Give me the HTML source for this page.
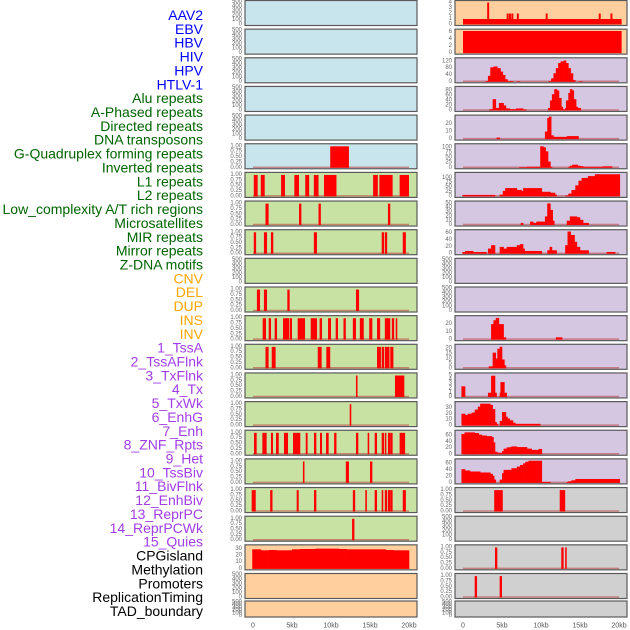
<!DOCTYPE html>
<html><head><meta charset="utf-8"><style>
html,body{margin:0;padding:0;background:#fff;}
svg{display:block;font-family:"Liberation Sans",sans-serif;}
</style></head><body>
<svg id="chart" width="630" height="630" viewBox="0 0 630 630" xmlns="http://www.w3.org/2000/svg"></svg>
<script>
const trackNames = ["AAV2","EBV","HBV","HIV","HPV","HTLV-1","Alu repeats","A-Phased repeats","Directed repeats","DNA transposons","G-Quadruplex forming repeats","Inverted repeats","L1 repeats","L2 repeats","Low_complexity A/T rich regions","Microsatellites","MIR repeats","Mirror repeats","Z-DNA motifs","CNV","DEL","DUP","INS","INV","1_TssA","2_TssAFlnk","3_TxFlnk","4_Tx","5_TxWk","6_EnhG","7_Enh","8_ZNF_Rpts","9_Het","10_TssBiv","11_BivFlnk","12_EnhBiv","13_ReprPC","14_ReprPCWk","15_Quies","CPGisland","Methylation","Promoters","ReplicationTiming","TAD_boundary"];
const kbTicks = [0,5,10,15,20];
const kbTickLabels = ["0","5kb","10kb","15kb","20kb"];
const ticks01 = [0,0.25,0.5,0.75,1];
const ticks01Labels = ["0.00","0.25","0.50","0.75","1.00"];
const ticks500 = [0,100,200,300,400,500];

// Left column binary intervals [startKb, endKb]
const gquadIntervals = [[9.9,12.3]];
const l1Intervals = [[0.1,0.6],[1.0,1.5],[3.6,4.1],[5.3,5.9],[6.7,7.2],[7.8,8.4],[9.1,10.7],[15.4,16.0],[16.2,17.9],[18.8,20.0]];
const lowCompIntervals = [[1.6,2.0],[5.9,6.2],[8.4,8.7],[17.3,17.6]];
const mirIntervals = [[0.1,0.4],[1.4,1.8],[2.3,2.6],[7.8,8.2],[16.5,16.8],[16.9,17.2],[19.2,19.6]];
const delIntervals = [[0.5,0.9],[1.4,1.8],[4.4,4.7],[13.2,13.6]];
const insIntervals = [[1.24,1.67],[2.01,2.31],[2.78,3.08],[3.85,4.62],[4.7,5.0],[5.73,6.67],[7.4,8.21],[8.54,8.85],[9.62,10.0],[10.6,10.9],[11.6,11.9],[12.8,13.2],[13.7,14.2],[14.9,15.3],[15.9,16.3],[16.9,17.6],[17.8,18.1],[18.3,18.5]];
const tssaIntervals = [[1.6,2.0],[2.4,2.9],[8.3,8.8],[9.4,9.9],[15.9,16.4],[16.5,16.8],[16.9,17.5],[17.6,18.0]];
const txflnkIntervals = [[13.2,13.4],[18.2,19.4]];
const txwkIntervals = [[12.4,12.6]];
const enhIntervals = [[0.13,0.47],[1.2,1.75],[2.3,2.56],[2.95,3.3],[3.97,4.49],[5.13,6.06],[6.76,7.0],[7.82,8.12],[8.59,8.85],[9.36,9.7],[10.4,10.7],[13.2,13.5],[14.7,14.9],[15.6,15.9],[16.5,16.8],[16.9,17.1],[17.3,17.6],[17.6,17.9],[18.8,19.5]];
const hetIntervals = [[6.4,6.6],[11.9,12.3],[15.0,15.3]];
const bivflnkIntervals = [[-0.17,0.35],[2.2,2.5],[5.6,5.86],[7.82,8.12],[12.8,13.1],[14.4,14.6],[15.6,15.9],[16.5,16.7],[16.9,17.2],[17.3,17.6],[17.6,17.9],[19.2,19.6]];
const quiesIntervals = [[12.7,13.0]];
// right column binary
const bivGrayIntervals = [[4.0,5.1],[12.4,13.1]];
const methIntervals = [[4.1,4.4],[12.6,12.9],[13.1,13.3]];
const replIntervals = [[1.5,1.8],[4.7,5.0]];

// step profiles [startKb, value]; a step lasts until the next start
const cpgSteps = [[-0.1,29.5],[1,28],[2,28.5],[3,28],[4,28],[5,29.5],[6,30],[8,30.5],[11,30],[12,29.5],[17,28.5],[18,28],[20,0]];
const aav2Steps = [[0,1],[20.3,0]];
const aav2Spikes = [[3.1,4],[5.6,2],[5.9,2],[6.2,2],[6.9,2],[10.6,2],[17.4,2],[18.9,2]];
const ebvSteps = [[0,6.3],[20.3,0]];
const hivSteps = [[2.9,5],[3.2,35],[3.5,85],[3.9,90],[4.4,80],[4.8,60],[5.1,40],[5.4,15],[5.7,4],[6.4,0],[6.9,3],[7.3,0],[11.0,5],[11.3,20],[11.6,50],[11.9,80],[12.2,110],[12.5,120],[12.9,125],[13.2,110],[13.5,80],[13.8,50],[14.1,10],[14.4,0],[14.8,3],[15.3,0]];
const aluSteps = [[3.4,5],[3.8,45],[4.2,10],[4.6,30],[5.2,20],[5.5,8],[6.0,5],[6.8,8],[7.7,4],[8.1,0],[10.9,10],[11.15,40],[11.4,65],[11.7,85],[12.05,80],[12.3,50],[12.6,15],[12.8,5],[13.1,10],[13.2,40],[13.5,70],[13.7,85],[14.0,80],[14.2,45],[14.5,15],[14.7,10],[15.1,0]];
const directedSteps = [[4.3,2],[4.7,0],[10.5,10],[10.8,28],[11.0,30],[11.3,5],[11.6,3],[13.3,4],[14.8,0]];
const dnaSteps = [[7.2,3],[8.2,5],[9.9,105],[10.3,100],[10.6,80],[10.9,30],[11.2,5],[11.4,0],[13.5,5],[13.7,10],[14.0,15],[14.7,10],[15.0,8],[15.4,5],[17.9,7],[19.1,0]];
const l1Steps = [[-0.1,8],[4.1,0],[4.7,10],[5.1,30],[5.4,45],[6.9,35],[7.5,30],[7.7,45],[10.1,25],[11.2,20],[11.8,10],[12.0,0],[13.1,5],[13.5,15],[13.9,35],[14.4,60],[14.8,85],[15.2,100],[16.0,110],[16.9,120],[20.1,0]];
const l2Steps = [[7.4,5],[7.7,0],[8.6,8],[9.0,5],[9.4,8],[10.5,20],[10.8,50],[11.2,35],[11.5,10],[11.7,0],[13.3,10],[13.7,20],[14.6,18],[15.0,12],[15.4,5],[16.1,0]];
const mirSteps = [[-0.1,5],[0.26,8],[1.3,5],[3.0,0],[3.2,15],[3.6,25],[4.1,0],[4.7,20],[5.2,15],[5.6,20],[6.9,25],[7.3,28],[7.7,15],[7.9,8],[10.1,0],[10.8,10],[11.1,20],[11.4,10],[12.0,0],[13.1,25],[13.4,65],[13.8,55],[14.3,35],[14.6,20],[15.0,10],[16.1,0],[18.4,5],[19.5,0]];
const insSteps = [[3.6,20],[3.9,25],[4.2,28],[4.6,20],[5.2,3],[5.5,0],[11.9,3],[12.7,0]];
const tssaSteps = [[3.3,2],[3.8,16],[4.2,10],[4.4,20],[4.7,22],[5.0,9],[5.3,3],[5.5,0]];
const txSteps = [[-0.2,2.5],[0.26,0],[3.2,1],[3.6,5],[4.1,1],[4.3,0],[4.7,1],[4.8,3.5],[5.3,1],[5.6,0]];
const txwkSteps = [[-0.2,20],[0.26,18],[0.6,20],[1.1,22],[1.5,27],[1.9,32],[2.2,37],[3.5,35],[3.8,28],[4.1,6],[4.3,3],[4.5,0],[4.7,8],[5.0,23],[5.5,15],[5.7,12],[6.0,9],[6.4,5],[6.7,3],[9.9,0]];
const enhSteps = [[-0.2,65],[0.2,70],[1.5,68],[2.0,63],[2.4,60],[3.0,58],[3.7,55],[3.9,38],[4.1,8],[4.4,5],[5.0,10],[5.2,18],[5.6,22],[6.0,23],[6.2,25],[6.9,23],[8.2,18],[8.8,14],[9.7,17],[10.1,0]];
const hetSteps = [[-0.2,42],[0.26,38],[0.9,35],[2.2,32],[3.5,28],[3.8,22],[4.0,10],[4.2,0],[4.7,10],[5.0,30],[5.2,40],[6.2,45],[6.9,50],[7.3,55],[7.7,60],[8.0,65],[8.4,68],[10.1,3],[11.2,0],[13.3,3],[13.5,5],[13.9,8],[14.4,12],[20.1,0]];

const BLUE="#c8e4ec", GREEN="#c8e2a4", ORANGE="#ffd09e", PURPLE="#d5c6e2", GRAY="#d0d0d0";
const leftPanels = [
 {bg:BLUE},{bg:BLUE},{bg:BLUE},{bg:BLUE},{bg:BLUE},
 {bg:BLUE,iv:gquadIntervals},
 {bg:GREEN,iv:l1Intervals},{bg:GREEN,iv:lowCompIntervals},{bg:GREEN,iv:mirIntervals},{bg:GREEN},
 {bg:GREEN,iv:delIntervals},{bg:GREEN,iv:insIntervals},{bg:GREEN,iv:tssaIntervals},{bg:GREEN,iv:txflnkIntervals},
 {bg:GREEN,iv:txwkIntervals},{bg:GREEN,iv:enhIntervals},{bg:GREEN,iv:hetIntervals},{bg:GREEN,iv:bivflnkIntervals},
 {bg:GREEN,iv:quiesIntervals},
 {bg:ORANGE,st:cpgSteps,ymax:34,ticks:[0,10,20,30]},{bg:ORANGE},{bg:ORANGE}
];
const rightPanels = [
 {bg:ORANGE,st:aav2Steps,spikes:aav2Spikes,ymax:4.1,ticks:[0,1,2,3,4],nobase:true},
 {bg:ORANGE,st:ebvSteps,ymax:6.4,ticks:[0,2,4,6],nobase:true},
 {bg:PURPLE,st:hivSteps,ymax:132,ticks:[0,40,80,120]},
 {bg:PURPLE,st:aluSteps,ymax:90,ticks:[0,20,40,60,80]},
 {bg:PURPLE,st:directedSteps,ymax:30,ticks:[0,10,20]},
 {bg:PURPLE,st:dnaSteps,ymax:110,ticks:[0,25,50,75,100]},
 {bg:PURPLE,st:l1Steps,ymax:122,ticks:[0,25,50,75,100]},
 {bg:PURPLE,st:l2Steps,ymax:52,ticks:[0,10,20,30,40,50]},
 {bg:PURPLE,st:mirSteps,ymax:66,ticks:[0,20,40,60]},
 {bg:PURPLE},{bg:PURPLE},
 {bg:PURPLE,st:insSteps,ymax:29,ticks:[0,10,20]},
 {bg:PURPLE,st:tssaSteps,ymax:23,ticks:[0,5,10,15,20]},
 {bg:PURPLE,st:txSteps,ymax:5.3,ticks:[0,1,2,3,4,5]},
 {bg:PURPLE,st:txwkSteps,ymax:38,ticks:[0,10,20,30]},
 {bg:PURPLE,st:enhSteps,ymax:72,ticks:[0,20,40,60]},
 {bg:PURPLE,st:hetSteps,ymax:69,ticks:[0,20,40,60]},
 {bg:GRAY,iv:bivGrayIntervals},{bg:GRAY},{bg:GRAY,iv:methIntervals},{bg:GRAY,iv:replIntervals},{bg:GRAY}
];

const svg = document.getElementById('chart');
const NS = "http://www.w3.org/2000/svg";
function mk(tag, attrs, parent){ const e=document.createElementNS(NS,tag); for(const k in attrs) e.setAttribute(k,attrs[k]); (parent||svg).appendChild(e); return e; }

// labels
const labelColors = i => i<6?"#0000ff":(i<19?"#006400":(i<24?"#ffa500":(i<39?"#a13ee8":"#000")));
trackNames.forEach((n,i)=>{
  const t = mk('text',{x:203,y:15+13.86*i,'text-anchor':'end','dominant-baseline':'central','font-size':14,fill:labelColors(i)});
  
  
  t.textContent = n;
});

function rowGeom(r){ return r<21 ? {top:0.5+r*28.65, h:25} : {top:601, h:16}; }

function drawPanel(p, r, colX, col){
  const g = rowGeom(r);
  const x0 = colX-8, w = 172;
  const xs = kb => colX + kb*7.8;
  const ymax = p.ymax || (p.iv?1.05:500);
  const bottom = g.top+g.h-1, span = g.h-2.5;
  const ys = v => bottom - v/ymax*span;
  const grp = mk('g',{});
  
  
  const bgR = mk('rect',{x:x0,y:g.top,width:w,height:g.h,fill:p.bg},grp);
  
  
  const clip = mk('g',{},grp);
  if(p.iv){
    mk('line',{x1:xs(0),x2:xs(20),y1:bottom-0.5,y2:bottom-0.5,stroke:'rgba(190,60,60,0.55)','stroke-width':1.5},clip);
    p.iv.forEach(iv=>{
      const b = mk('rect',{x:xs(iv[0]),y:ys(1.0),width:Math.max(1.5,xs(iv[1])-xs(iv[0])),height:bottom-ys(1.0),fill:'#ff0000'},clip);
      
      
    });
  }
  if(p.st){
    if(!p.nobase) mk('line',{x1:xs(0),x2:xs(20),y1:bottom-0.5,y2:bottom-0.5,stroke:'rgba(190,60,60,0.55)','stroke-width':1.5},clip);
    for(let i=0;i<p.st.length-1;i++){
      const v=p.st[i][1]; if(v<=0) continue;
      const yy = Math.max(g.top+0.5, ys(v));
      const b = mk('rect',{x:xs(p.st[i][0]),y:yy,width:xs(p.st[i+1][0])-xs(p.st[i][0])+0.3,height:bottom-yy,fill:'#ff0000'},clip);
      
      
    }
    (p.spikes||[]).forEach(s=>{
      const yy = Math.max(g.top+0.5, ys(s[1]));
      const b = mk('rect',{x:xs(s[0]),y:yy,width:2,height:bottom-yy,fill:'#ff0000'},clip);
      
      
    });
  }
  const br = mk('rect',{x:x0,y:g.top,width:w,height:g.h,fill:'none',stroke:'#5a5a5a','stroke-width':1.2},grp);
  
  
  // y ticks
  let tv, tl;
  if(p.iv){ tv=ticks01; tl=ticks01Labels; }
  else if(p.ticks){ tv=p.ticks; tl=p.ticks.map(String); }
  else { tv=ticks500; tl=ticks500.map(String); }
  tv.forEach((v,i)=>{
    const t = mk('text',{x:x0-3,y:ys(v),'text-anchor':'end','dominant-baseline':'central','font-size':6,fill:'#666'},grp);
    
    
    t.textContent = tl[i];
  });
}

leftPanels.forEach((p,r)=>drawPanel(p,r,253,'left'));
rightPanels.forEach((p,r)=>drawPanel(p,r,463,'right'));

// x axes
[253,463].forEach((cx,ci)=>{
  kbTicks.forEach((k,i)=>{
    const t = mk('text',{x:cx+k*7.8,y:626,'text-anchor':'middle','dominant-baseline':'central','font-size':7,fill:'#555'});
    
    
    t.textContent = kbTickLabels[i];
  });
});
</script>
</body></html>
